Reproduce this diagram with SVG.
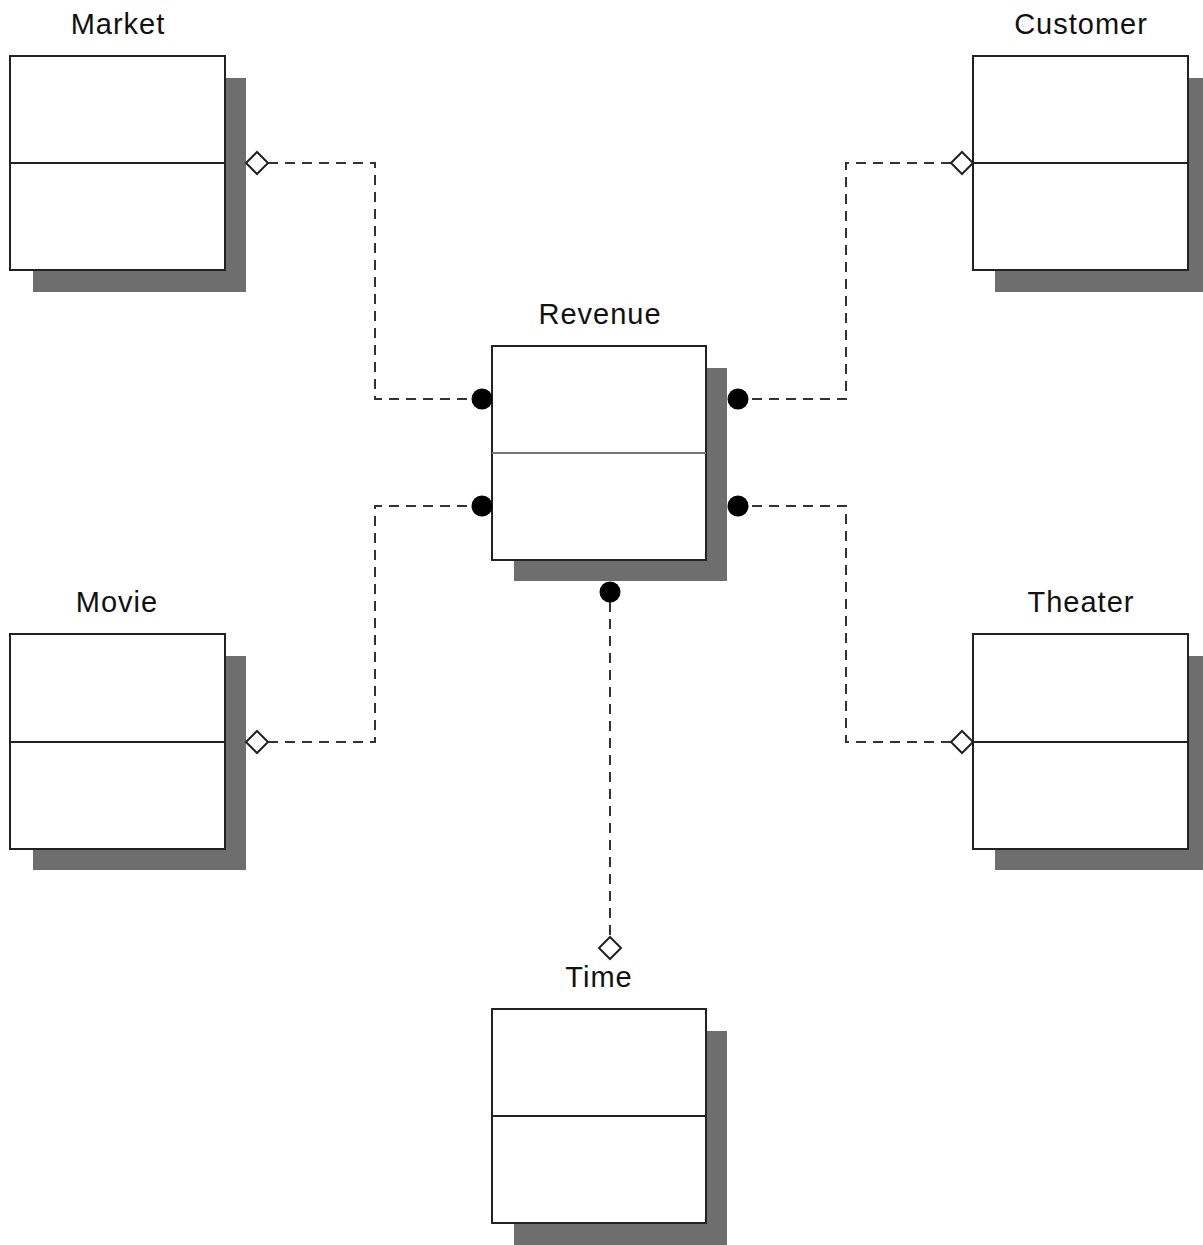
<svg xmlns="http://www.w3.org/2000/svg" width="1203" height="1245" viewBox="0 0 1203 1245">
<style>
.shadow{fill:#6e6e6e}
.box{fill:#fff;stroke:#222;stroke-width:2}
.div{stroke:#222;stroke-width:2}
.lbl{font-family:"Liberation Sans",Arial,sans-serif;font-size:29px;letter-spacing:1px;fill:#111;text-anchor:middle}
.conn{fill:none;stroke:#333;stroke-width:2;stroke-dasharray:10 7}
.dia{fill:#fff;stroke:#222;stroke-width:2}
.dot{fill:#000}
</style>
<rect width="1203" height="1245" fill="#fff"/>
<g id="market">
<rect class="shadow" x="33" y="78" width="213" height="214"/>
<rect class="box" x="10" y="56" width="215" height="214"/>
<line class="div" x1="10" y1="163" x2="225" y2="163"/>
<text class="lbl" x="118" y="34">Market</text>
</g>
<g id="customer">
<rect class="shadow" x="995" y="78" width="213" height="214"/>
<rect class="box" x="973" y="56" width="215" height="214"/>
<line class="div" x1="973" y1="163" x2="1188" y2="163"/>
<text class="lbl" x="1081" y="34">Customer</text>
</g>
<g id="revenue">
<rect class="shadow" x="514" y="368" width="213" height="213"/>
<rect class="box" x="492" y="346" width="214" height="214"/>
<line x1="492" y1="453" x2="706" y2="453" stroke="#777" stroke-width="2"/>
<text class="lbl" x="600" y="324">Revenue</text>
</g>
<g id="movie">
<rect class="shadow" x="33" y="656" width="213" height="214"/>
<rect class="box" x="10" y="634" width="215" height="215"/>
<line class="div" x1="10" y1="742" x2="225" y2="742"/>
<text class="lbl" x="117" y="612">Movie</text>
</g>
<g id="theater">
<rect class="shadow" x="995" y="656" width="213" height="214"/>
<rect class="box" x="973" y="634" width="215" height="215"/>
<line class="div" x1="973" y1="742" x2="1188" y2="742"/>
<text class="lbl" x="1081" y="612">Theater</text>
</g>
<g id="time">
<rect class="shadow" x="514" y="1031" width="213" height="214"/>
<rect class="box" x="492" y="1009" width="214" height="214"/>
<line class="div" x1="492" y1="1116" x2="706" y2="1116"/>
<text class="lbl" x="599" y="987">Time</text>
</g>
<g id="connectors">
<polyline class="conn" points="268,163 375,163 375,399 472,399"/>
<polyline class="conn" points="951,163 846,163 846,399 748,399"/>
<polyline class="conn" points="268,742 375,742 375,506 472,506"/>
<polyline class="conn" points="951,742 846,742 846,506 748,506"/>
<polyline class="conn" points="610,602 610,937"/>
<polygon class="dia" points="246,163 257,152 268,163 257,174"/>
<polygon class="dia" points="951,163 962,152 973,163 962,174"/>
<polygon class="dia" points="246,742 257,731 268,742 257,753"/>
<polygon class="dia" points="951,742 962,731 973,742 962,753"/>
<polygon class="dia" points="599,948 610,937 621,948 610,959"/>
<circle class="dot" cx="482" cy="399" r="10.5"/>
<circle class="dot" cx="482" cy="506" r="10.5"/>
<circle class="dot" cx="738" cy="399" r="10.5"/>
<circle class="dot" cx="738" cy="506" r="10.5"/>
<circle class="dot" cx="610" cy="592" r="10.5"/>
</g>
</svg>
